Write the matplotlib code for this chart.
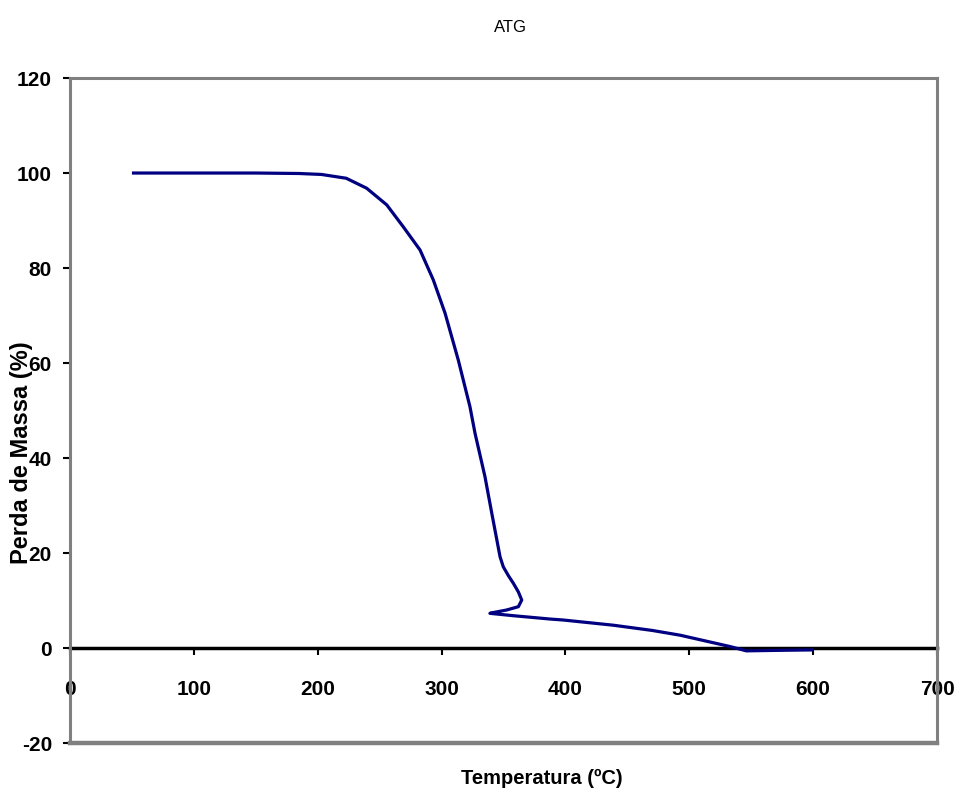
import matplotlib.pyplot as plt

plt.rcParams['font.family'] = ['Liberation Sans', 'DejaVu Sans']
plt.rcParams['axes.unicode_minus'] = False

# TGA curve (temperature in C, mass in %)
temp = [50, 100, 150, 185, 203, 223, 239.5, 255.7, 269, 282.6, 293.3, 302.8,
        313.5, 322.9, 327, 335, 340.5, 347.2, 349.8, 354, 358, 362,
        364.7, 362, 352.5, 340.4, 339, 358, 387.5, 398, 438.6, 470, 492.5,
        533, 546, 570, 600]
mass = [100, 100, 100, 99.9, 99.7, 98.9, 96.8, 93.3, 88.7, 83.8, 77.5, 70.5,
        60.6, 50.8, 45.2, 36.1, 28.4, 19.2, 17.1, 15.2, 13.6, 11.8,
        10.1, 8.7, 8.0, 7.4, 7.3, 6.8, 6.1, 5.9, 4.8, 3.7, 2.7,
        0.3, -0.6, -0.5, -0.4]

xticks = [0, 100, 200, 300, 400, 500, 600, 700]
yticks = [-20, 0, 20, 40, 60, 80, 100, 120]

fig = plt.figure(figsize=(9.55, 7.89), dpi=100)
ax = fig.add_axes([0.0733, 0.0583, 0.9079, 0.8428])

ax.plot(temp, mass, color='#000080', lw=2.3, solid_capstyle='butt',
        solid_joinstyle='round')

ax.set_xlim(0, 700)
ax.set_ylim(-20, 120)
ax.set_xticks(xticks)
ax.set_yticks(yticks)

gray = '#808080'
for s in ['left', 'top', 'right']:
    ax.spines[s].set_color(gray)
    ax.spines[s].set_linewidth(2.2)
ax.spines['bottom'].set_position(('data', 0))
ax.spines['bottom'].set_color('black')
ax.spines['bottom'].set_linewidth(2.5)
ax.spines['bottom'].set_zorder(1)
# gray frame bottom edge
ax.plot([0, 1], [0, 0], transform=ax.transAxes, color=gray, lw=3.2, clip_on=False)

ax.tick_params(axis='y', length=5, width=1.5, color='black', labelsize=15, pad=8)
ax.tick_params(axis='x', length=5, width=1.5, color='black', labelsize=15, pad=18)
for lbl in ax.get_xticklabels() + ax.get_yticklabels():
    lbl.set_fontweight('bold')

fig.text(0.534, 0.965, 'ATG', ha='center', va='center', fontsize=12)
fig.text(0.567, 0.013, 'Temperatura (ºC)', ha='center', va='center',
         fontsize=14.5, fontweight='bold')
# overlaps the tick labels in the original as well
fig.text(0.023, 0.4265, 'Perda de Massa (%)', ha='center', va='center',
         rotation=90, fontsize=17, fontweight='bold')

fig.savefig('out.png', dpi=100)
